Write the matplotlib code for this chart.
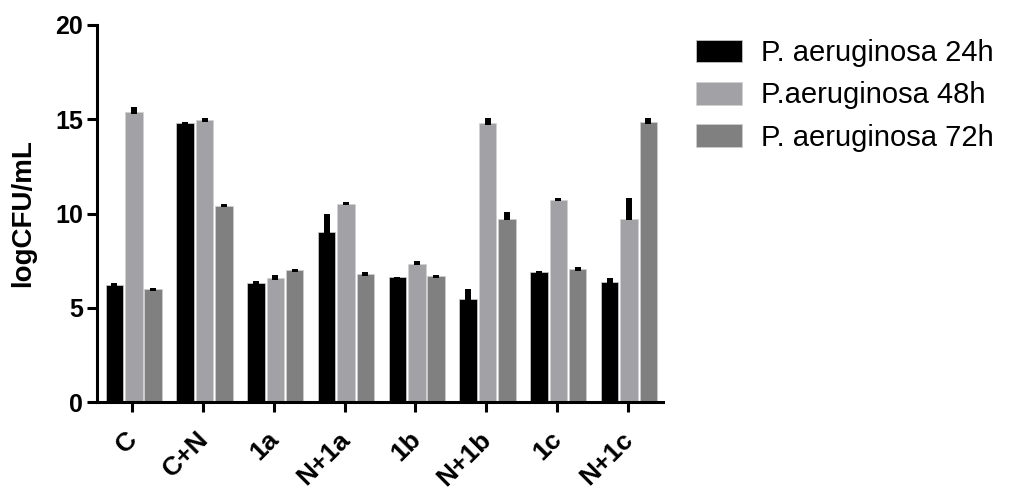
import numpy as np
import matplotlib
matplotlib.use("Agg")
import matplotlib.pyplot as plt
import matplotlib.transforms as mtransforms

categories = ["C", "C+N", "1a", "N+1a", "1b", "N+1b", "1c", "N+1c"]
series_names = ["P. aeruginosa 24h", "P.aeruginosa 48h", "P. aeruginosa 72h"]
vals_24h = [6.2, 14.78, 6.3, 9.03, 6.62, 5.46, 6.9, 6.38]
vals_48h = [15.37, 14.94, 6.56, 10.52, 7.34, 14.78, 10.74, 9.73]
vals_72h = [5.97, 10.4, 6.98, 6.78, 6.68, 9.73, 7.04, 14.84]
err_24h = [0.12, 0.06, 0.1, 0.95, 0.03, 0.55, 0.07, 0.2]
err_48h = [0.3, 0.1, 0.2, 0.1, 0.14, 0.3, 0.1, 1.1]
err_72h = [0.1, 0.08, 0.06, 0.1, 0.08, 0.33, 0.1, 0.22]
colors = ["#000000", "#a2a2a6", "#808080"]

plt.rcParams['font.family'] = ['Liberation Sans', 'DejaVu Sans']

fig = plt.figure(figsize=(10.24, 4.95), dpi=100)
ax = fig.add_axes([97/1024, 1-402/495, (663-97)/1024, (402-25)/495])

x = np.arange(len(categories))
width = 0.248
offsets = [-0.273, 0.0, 0.273]
allvals = [vals_24h, vals_48h, vals_72h]
allerr = [err_24h, err_48h, err_72h]
handles = []
for i in range(3):
    v = np.array(allvals[i]); e = np.array(allerr[i])
    b = ax.bar(x + offsets[i] + 0.02, v, width, color=colors[i], edgecolor='#d0d0d0',
               linewidth=0.5, label=series_names[i], zorder=2)
    handles.append(b)
    ax.errorbar(x + offsets[i] + 0.02, v - 0.08, yerr=[np.zeros_like(e), e + 0.08], fmt='none',
                ecolor='black', elinewidth=4.3, capsize=0, zorder=3)

ax.set_xlim(-0.5, 7.5)
ax.set_ylim(0, 20)
ax.set_yticks([0, 5, 10, 15, 20])
ax.set_xticks(x)
for s in ['top', 'right']:
    ax.spines[s].set_visible(False)
for s in ['left', 'bottom']:
    ax.spines[s].set_linewidth(2.2)
ax.tick_params(axis='both', width=2.2, length=7, direction='out', pad=3)
ax.tick_params(axis='x', pad=11)
ax.set_xticklabels(categories, rotation=45, ha='right', va='top', rotation_mode='anchor',
                   fontsize=19, fontweight='bold')
for lab in ax.get_yticklabels():
    lab.set_fontsize(18); lab.set_fontweight('bold')
ax.set_ylabel("logCFU/mL", fontsize=20, fontweight='bold')
ax.yaxis.set_label_coords(-61/566, 0.5)

fig.canvas.draw()
shift = mtransforms.ScaledTranslation(-7/100, 0, fig.dpi_scale_trans)
for lab in ax.get_xticklabels():
    lab.set_transform(lab.get_transform() + shift)

leg = fig.legend(handles=handles, labels=series_names, loc='upper left',
                 bbox_to_anchor=(696/1024, 1-39/495), frameon=False, fontsize=21,
                 handlelength=1.58, handleheight=0.82, handletextpad=0.66,
                 labelspacing=0.49, borderpad=0, borderaxespad=0)

fig.savefig("out.png", dpi=100)
